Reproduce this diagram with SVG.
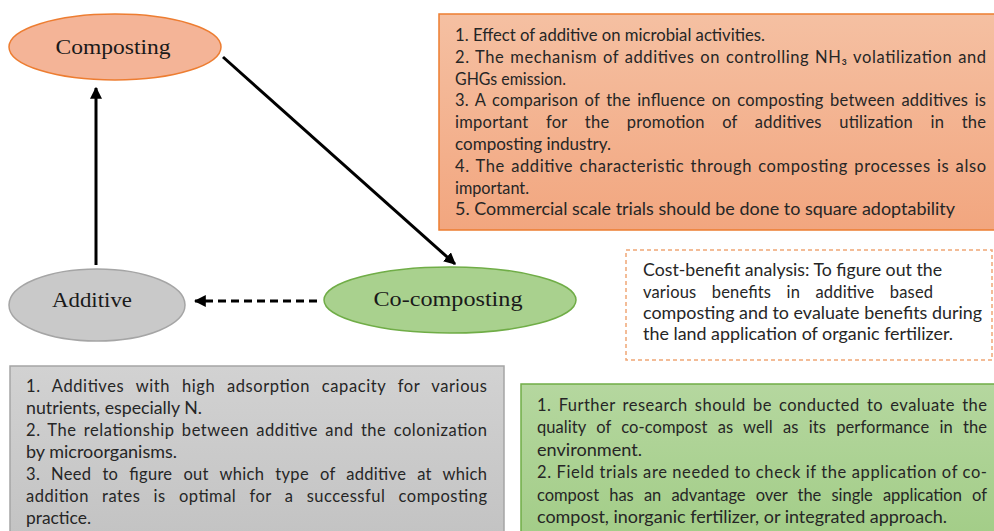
<svg xmlns="http://www.w3.org/2000/svg" width="994" height="531" viewBox="0 0 994 531">
<style>
.lbl{font-family:"Liberation Serif","Times New Roman",serif;font-size:22px;fill:#1a1a1a;text-anchor:middle}
.t{font-family:Lato,"Liberation Sans",sans-serif;font-size:16.5px;fill:#262626}
.conn{stroke:#000;stroke-width:3;fill:none}
</style>
<defs>
<linearGradient id="gO" x1="0" y1="0" x2="0" y2="1"><stop offset="0" stop-color="#F5C0A2"/><stop offset="1" stop-color="#F2A67F"/></linearGradient>
<linearGradient id="gG" x1="0" y1="0" x2="0" y2="1"><stop offset="0" stop-color="#B5D79F"/><stop offset="1" stop-color="#A3CD88"/></linearGradient>
<linearGradient id="gY" x1="0" y1="0" x2="0" y2="1"><stop offset="0" stop-color="#D2D2D2"/><stop offset="1" stop-color="#C3C3C3"/></linearGradient>
<marker id="ah" viewBox="0 0 10 10" refX="9" refY="5" markerWidth="4" markerHeight="4" orient="auto" markerUnits="strokeWidth"><path d="M0,0 L10,5 L0,10 z" fill="#000"/></marker>
</defs>

<g id="connectors">
<line class="conn" x1="96" y1="265" x2="96" y2="88" marker-end="url(#ah)"/>
<line class="conn" x1="223" y1="57" x2="455" y2="264" marker-end="url(#ah)"/>
<line class="conn" x1="317" y1="301" x2="195" y2="301" stroke-dasharray="8,5" marker-end="url(#ah)"/>
</g>

<g id="composting">
<ellipse cx="115" cy="47" rx="106" ry="33" fill="#F4B497" stroke="#ED7D31" stroke-width="1.5"/>
<text class="lbl" x="113" y="54" textLength="115" lengthAdjust="spacingAndGlyphs">Composting</text>
</g>

<g id="additive">
<ellipse cx="97" cy="305" rx="88" ry="36" fill="#C9C9C9" stroke="#A5A5A5" stroke-width="1.5"/>
<text class="lbl" x="92" y="307" textLength="80" lengthAdjust="spacingAndGlyphs">Additive</text>
</g>

<g id="cocomposting">
<ellipse cx="450" cy="300" rx="126" ry="33" fill="#A9D18E" stroke="#70AD47" stroke-width="1.5"/>
<text class="lbl" x="448" y="306" textLength="149" lengthAdjust="spacingAndGlyphs">Co-composting</text>
</g>

<g id="composting-notes">
<rect x="439" y="14" width="560" height="216" fill="url(#gO)" stroke="#ED7D31" stroke-width="1.5"/>
<text class="t" x="455" y="41" textLength="310" lengthAdjust="spacingAndGlyphs">1. Effect of additive on microbial activities.</text>
<text class="t" x="455" y="62.8" word-spacing="1" textLength="531" lengthAdjust="spacing">2. The mechanism of additives on controlling NH₃ volatilization and</text>
<text class="t" x="455" y="84.6" textLength="111" lengthAdjust="spacingAndGlyphs">GHGs emission.</text>
<text class="t" x="455" y="106.4" word-spacing="2" textLength="531" lengthAdjust="spacing">3. A comparison of the influence on composting between additives is</text>
<text class="t" x="455" y="128.2" word-spacing="13" textLength="531" lengthAdjust="spacing">important for the promotion of additives utilization in the</text>
<text class="t" x="455" y="150" textLength="156" lengthAdjust="spacingAndGlyphs">composting industry.</text>
<text class="t" x="455" y="171.8" word-spacing="1.5" textLength="531" lengthAdjust="spacing">4. The additive characteristic through composting processes is also</text>
<text class="t" x="455" y="193.6" textLength="74" lengthAdjust="spacingAndGlyphs">important.</text>
<text class="t" x="455" y="215.4" textLength="500" lengthAdjust="spacingAndGlyphs">5. Commercial scale trials should be done to square adoptability</text>
</g>

<g id="cost-benefit">
<rect x="626" y="250" width="366" height="110" fill="#FFFFFF" stroke="#F0A676" stroke-width="1.5" stroke-dasharray="4,3"/>
<text class="t" x="643" y="276" textLength="299" lengthAdjust="spacingAndGlyphs">Cost-benefit analysis: To figure out the</text>
<text class="t" x="643" y="298" word-spacing="11" textLength="290" lengthAdjust="spacing">various benefits in additive based</text>
<text class="t" x="643" y="319" textLength="339" lengthAdjust="spacingAndGlyphs">composting and to evaluate benefits during</text>
<text class="t" x="643" y="340" textLength="310" lengthAdjust="spacingAndGlyphs">the land application of organic fertilizer.</text>
</g>

<g id="additive-notes">
<rect x="10" y="366" width="494" height="170" fill="url(#gY)" stroke="#A5A5A5" stroke-width="1.5"/>
<text class="t" x="26" y="392" word-spacing="7" textLength="461" lengthAdjust="spacing">1. Additives with high adsorption capacity for various</text>
<text class="t" x="26" y="414" textLength="176" lengthAdjust="spacingAndGlyphs">nutrients, especially N.</text>
<text class="t" x="26" y="436" word-spacing="2.5" textLength="461" lengthAdjust="spacing">2. The relationship between additive and the colonization</text>
<text class="t" x="26" y="458" textLength="151" lengthAdjust="spacingAndGlyphs">by microorganisms.</text>
<text class="t" x="26" y="480" word-spacing="6.5" textLength="461" lengthAdjust="spacing">3. Need to figure out which type of additive at which</text>
<text class="t" x="26" y="502" word-spacing="8.5" textLength="461" lengthAdjust="spacing">addition rates is optimal for a successful composting</text>
<text class="t" x="26" y="524" textLength="65" lengthAdjust="spacingAndGlyphs">practice.</text>
</g>

<g id="cocomposting-notes">
<rect x="521" y="384" width="478" height="152" fill="url(#gG)" stroke="#70AD47" stroke-width="1.5"/>
<text class="t" x="537" y="411" word-spacing="2.5" textLength="450" lengthAdjust="spacing">1. Further research should be conducted to evaluate the</text>
<text class="t" x="537" y="433" word-spacing="6" textLength="450" lengthAdjust="spacing">quality of co-compost as well as its performance in the</text>
<text class="t" x="537" y="455.5" textLength="105" lengthAdjust="spacingAndGlyphs">environment.</text>
<text class="t" x="537" y="478" textLength="450" lengthAdjust="spacing">2. Field trials are needed to check if the application of co-</text>
<text class="t" x="537" y="500.5" word-spacing="6" textLength="450" lengthAdjust="spacing">compost has an advantage over the single application of</text>
<text class="t" x="537" y="523" textLength="410" lengthAdjust="spacingAndGlyphs">compost, inorganic fertilizer, or integrated approach.</text>
</g>
</svg>
